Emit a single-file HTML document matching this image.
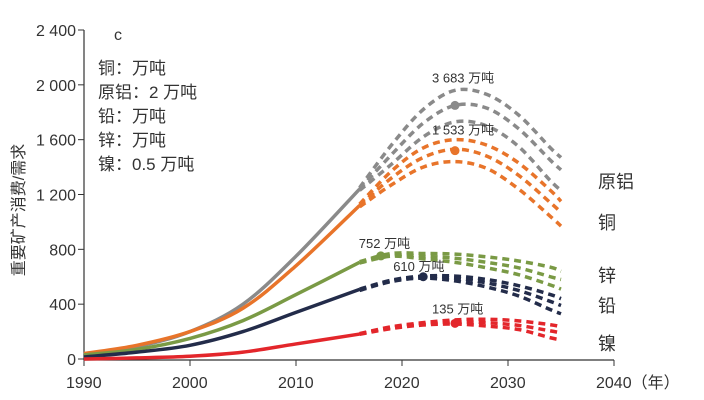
<!DOCTYPE html>
<html><head><meta charset="utf-8"><style>
body{margin:0;background:#fff;}
svg{display:block;font-family:"Liberation Sans","Noto Sans CJK SC",sans-serif;}
</style></head><body>
<svg id="chart" width="704" height="400" viewBox="0 0 704 400"></svg>
<script>
const xTicks=[1990,2000,2010,2020,2030,2040];
const xTickLabels=["1990","2000","2010","2020","2030","2040（年）"];
const yTicks=[0,400,800,1200,1600,2000,2400];
const yTickLabels=["0","400","800","1 200","1 600","2 000","2 400"];
const histYears=[1990,1995,2000,2005,2010,2016];
const projYears=[2016,2019,2022,2025,2028,2031,2034,2035];
const seriesNames=["原铝","铜","锌","铅","镍"];
const seriesColors=["#8a8a8a","#e8742a","#7a9a45","#232c4a","#e3262b"];
const histAl=[30,90,200,400,750,1240];
const histCu=[40,100,200,370,680,1120];
const histZn=[30,70,150,280,470,705];
const histPb=[15,50,100,200,340,508];
const histNi=[0,8,20,50,110,182];
const projAl=[[1250,1560,1820,1960,1930,1780,1540,1470],[1240,1490,1720,1850,1830,1680,1450,1380],[1230,1420,1620,1730,1700,1550,1300,1230]];
const projCu=[[1130,1370,1540,1600,1560,1430,1230,1150],[1120,1320,1470,1530,1480,1340,1140,1070],[1110,1270,1400,1440,1390,1240,1040,970]];
const projZn=[[710,770,770,765,745,715,670,640],[705,760,750,735,705,665,600,580],[700,750,730,705,665,615,540,510]];
const projPb=[[510,575,605,605,580,535,470,440],[505,570,600,590,555,500,420,390],[500,565,590,570,525,460,360,330]];
const projNi=[[185,235,265,285,290,278,250,235],[183,228,258,270,265,245,205,190],[180,222,248,255,240,215,155,140]];
const peakYears=[2025,2025,2018,2022,2025];
const peakValues=[1850,1520,752,600,260];
const peakLabels=["3 683 万吨","1 533 万吨","752 万吨","610 万吨","135 万吨"];

const NS="http://www.w3.org/2000/svg";
const svg=document.getElementById('chart');
const X=v=>84+(v-1990)*10.6;
const Y=v=>359-v*(329/2400);
function mk(t,a,p){const e=document.createElementNS(NS,t);for(const k in a)e.setAttribute(k,a[k]);(p||svg).appendChild(e);return e;}
function smooth(pts){let d="M"+pts[0][0]+","+pts[0][1];for(let i=0;i<pts.length-1;i++){const p0=pts[i-1]||pts[i],p1=pts[i],p2=pts[i+1],p3=pts[i+2]||p2;const c1=[p1[0]+(p2[0]-p0[0])/6,p1[1]+(p2[1]-p0[1])/6],c2=[p2[0]-(p3[0]-p1[0])/6,p2[1]-(p3[1]-p1[1])/6];d+=" C"+c1+" "+c2+" "+p2;}return d;}

let e=mk('line',{x1:84,y1:30,x2:84,y2:360,stroke:'#333','stroke-width':1.2});

e=mk('line',{x1:84,y1:360,x2:614,y2:360,stroke:'#333','stroke-width':1.2});

yTicks.forEach((v,i)=>{mk('line',{x1:78,x2:84,y1:Y(v),y2:Y(v),stroke:'#333'});
 const t=mk('text',{x:76,y:Y(v)+6,'text-anchor':'end','font-size':16,fill:'#333'});t.textContent=yTickLabels[i];
 });
xTicks.forEach((v,i)=>{mk('line',{x1:X(v),x2:X(v),y1:360,y2:366,stroke:'#333'});
 const t=mk('text',{x:X(v)-18,y:388,'font-size':16,fill:'#333'});t.textContent=xTickLabels[i];
 });
e=mk('text',{transform:'translate(24,210) rotate(-90)','text-anchor':'middle','font-size':16,fill:'#333'});e.textContent='重要矿产消费/需求';

const notes=['c','铜：万吨','原铝：2 万吨','铅：万吨','锌：万吨','镍：0.5 万吨'];
notes.forEach((s,i)=>{const t=mk('text',{x:i?98:114,y:i?74+i*24-24:40,'font-size':i?17:16,fill:'#333'});t.textContent=s;
 });

const hist=[histAl,histCu,histZn,histPb,histNi];
const proj=[projAl,projCu,projZn,projPb,projNi];
const lblDx=[-23,-23,-22,-30,-23];
const lblDy=[-23,-16,-8,-6,-10];
hist.forEach((h,s)=>{const g=mk('g',{});
 const p=mk('path',{d:smooth(histYears.map((y,i)=>[X(y),Y(h[i])])),fill:'none',stroke:seriesColors[s],'stroke-width':3.5},g);
 
 proj[s].forEach(arr=>{const q=mk('path',{d:smooth(projYears.map((y,i)=>[X(y),Y(arr[i])])),fill:'none',stroke:seriesColors[s],'stroke-width':3.5,'stroke-dasharray':'7 5'},g);
  });
 const c=mk('circle',{cx:X(peakYears[s]),cy:Y(peakValues[s]),r:4.5,fill:seriesColors[s]},g);
 
 const t=mk('text',{x:X(peakYears[s])+lblDx[s],y:Y(peakValues[s])+lblDy[s],'font-size':13,fill:'#333'},g);t.textContent=peakLabels[s];
 
});
const endY=[181,222,275,305,343];
seriesNames.forEach((n,s)=>{const t=mk('text',{x:598,y:endY[s]+7,'font-size':18,fill:'#333'});t.textContent=n;
 });
</script>
</body></html>
